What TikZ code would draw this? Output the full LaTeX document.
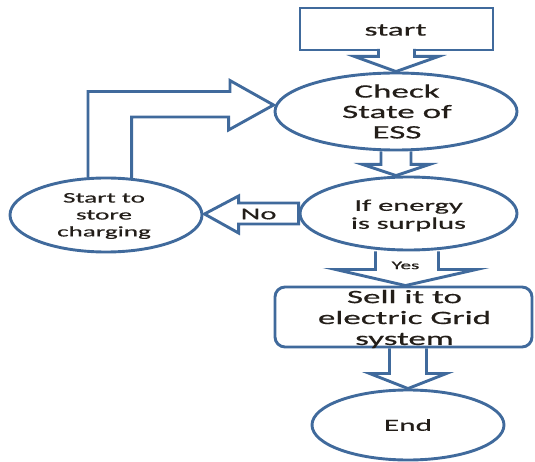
\documentclass[tikz,border=0pt]{standalone}
\usepackage{fontspec}
\setmainfont{Carlito}[FakeStretch=1.85,FakeBold=0.6]
\usetikzlibrary{shapes.geometric,calc}
\definecolor{edge}{RGB}{64,106,156}
\definecolor{ink}{RGB}{35,30,25}
\begin{document}
\begin{tikzpicture}[x=1bp,y=-1bp,
  outl/.style={draw=edge, line width=2.9bp, line join=miter},
  ell/.style={outl, ellipse, inner sep=0pt},
  txt/.style={text=ink, align=center, inner sep=0pt},
  blk/.style={outl},
  blkf/.style={outl, fill=white}]
\useasboundingbox (0,0) rectangle (535,462);
% shapes
\node[outl, rectangle, minimum width=193bp, minimum height=42bp, inner sep=0pt] (start) at (396.5,29) {};
\node[ell, minimum width=242bp, minimum height=77bp] (check) at (396,111.5) {};
\node[ell, minimum width=217bp, minimum height=73bp] (if) at (408.5,213.5) {};
\node[ell, minimum width=192bp, minimum height=74bp] (store) at (106,215) {};
\node[outl, rectangle, rounded corners=10bp, minimum width=257bp, minimum height=60bp, inner sep=0pt] (sell) at (403.5,317) {};
\node[ell, minimum width=192bp, minimum height=70bp] (end) at (408,425) {};
% block arrows
\draw[blkf] ($(start.south)+(-18,-2.5)$) -- ++(0,7.5) -- ++(-24,0) -- (check.north)
  -- ($(start.south)+(42,5)$) -- ++(-24,0) -- ++(0,-7.5);
\draw[blk] ($(check.south)+(-15,0)$) -- ++(0,13) -- ++(-18.5,0) -- (check.south |- if.north)
  -- ($(check.south)+(33.5,13)$) -- ++(-18.5,0) -- ++(0,-13);
\draw[blk] ($(if.south)+(-33,0)$) -- ++(0,18) -- ++(-40,0) -- ($(sell.north)+(2,0)$)
  -- ($(if.south)+(68,18)$) -- ++(-38,0) -- ++(0,-18);
\draw[blk] ($(sell.south -| end.north)+(-18.5,0)$) -- ++(0,25) -- ++(-20,0) -- (end.north)
  -- ($(sell.south -| end.north)+(38.5,25)$) -- ++(-20,0) -- ++(0,-25);
\draw[blk] ($(if.west)+(0,-10.5)$) -- ++(-60,0) -- ++(0,-7) -- ($(store.east)+(1,-1)$)
  -- ($(if.west)+(-60,19.5)$) -- ++(0,-9) -- ++(60,0) -- cycle;
\draw[blk] ($(store.north)+(-18,1)$) -- ++(0,-86) -- ++(142,0) -- ++(0,-11)
  -- ($(check.west)+(0,-6.5)$) -- ($(check.west)+(-45,18.5)$) -- ++(0,-13) -- ++(-97,0) -- ++(0,63);
% texts
\node[txt, font={\fontsize{18}{20}\selectfont}] (starttxt) at ($(start)+(-1,1)$) {start};
\node[txt, font={\fontsize{19}{20.5}\selectfont}] (checktxt) at ($(check)+(1,0)$) {Check\\State of\\ESS};
\node[txt, font={\fontsize{16.5}{18}\selectfont}] (iftxt) at ($(if)+(0,2)$) {If energy\\is surplus};
\node[txt, font={\fontsize{14.7}{17}\selectfont}] (storetxt) at ($(store)+(-2,1)$) {Start to\\store\\charging};
\node[txt, font={\fontsize{19}{21}\selectfont}] (selltxt) at ($(sell)+(1,2)$) {Sell it to\\electric Grid\\system};
\node[txt, font={\fontsize{17}{20}\selectfont}] (endtxt) at (end) {End};
\node[txt, font={\fontsize{16.6}{20}\selectfont}] (notxt) at ($(if.west)+(-40,0.5)$) {No};
\node[txt, font={\fontsize{11.5}{14}\selectfont}] (yestxt) at ($(if.south)+(-3,14)$) {Yes};
\end{tikzpicture}
\end{document}
